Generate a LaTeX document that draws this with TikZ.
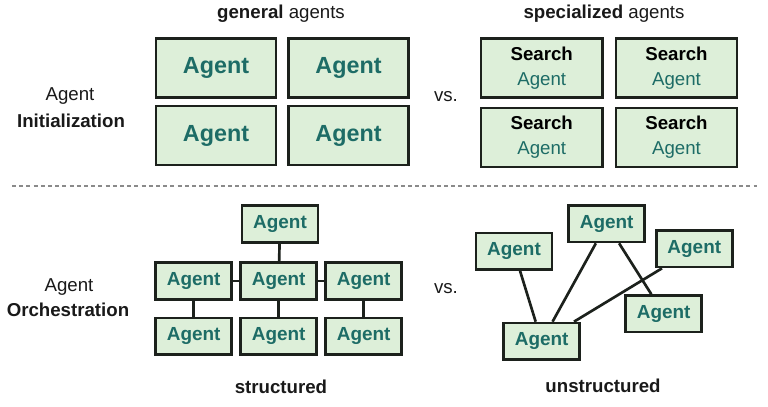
\documentclass[tikz,border=0pt]{standalone}
\usepackage{fontspec}
\setmainfont{Liberation Sans}
\usepackage{tikz}
\usetikzlibrary{positioning}
\definecolor{agfill}{HTML}{DDEFD9}
\definecolor{agline}{HTML}{1C211C}
\definecolor{agtext}{HTML}{1D6C66}
\definecolor{sepgray}{HTML}{8A8A8A}
\tikzset{
  bigag/.style  ={draw=agline, fill=agfill, line width=1.9pt, minimum width=90pt, minimum height=44pt, inner sep=0pt,
                  font=\fontsize{17.5}{20}\selectfont\bfseries, text=agtext},
  specag/.style ={draw=agline, fill=agfill, line width=1.9pt, minimum width=91pt, minimum height=44pt, inner sep=0pt,
                  align=center, font=\fontsize{14}{18.5}\selectfont},
  smallag/.style={draw=agline, fill=agfill, line width=1.9pt, minimum width=57pt, minimum height=27.5pt, inner sep=0pt,
                  font=\fontsize{14.2}{16}\selectfont\bfseries, text=agtext},
  link/.style   ={line width=2pt, agline},
  lbl/.style    ={font=\fontsize{14}{16}\selectfont, text=black!90},
  sep/.style    ={line width=1.5pt, sepgray, dash pattern=on 3pt off 2.4pt},
}
\newcommand{\srch}{\textbf{Search}\\\textcolor{agtext}{Agent}}
\begin{document}
\begin{tikzpicture}[x=0.75pt, y=-0.75pt]
  \useasboundingbox (0,0) rectangle (768,407);
  % initialization
  \node[lbl] (init1) at (70,96)  {Agent};
  \node[lbl] (init2) at (71,121) {\bfseries Initialization};
  \node[lbl] (gen)   at (281,14) {\textbf{general} agents};
  \node[lbl] (spec)  at (604,14) {\textbf{specialized} agents};
  \node[bigag] (g1) at (216,68)     {Agent};
  \node[bigag] (g2) at (348.5,68)   {Agent};
  \node[bigag] (g3) at (216,135.5)  {Agent};
  \node[bigag] (g4) at (348.5,135.5){Agent};
  \node[lbl] (vs1) at (446,97) {vs.};
  \node[specag] (s1) at (541.7,68)  {\srch};
  \node[specag] (s2) at (676.5,68)  {\srch};
  \node[specag] (s3) at (541.7,137.5){\srch};
  \node[specag] (s4) at (676.5,137.5){\srch};
  % separator
  \coordinate (sepl) at (12,186);
  \coordinate (sepr) at (757,186);
  \draw[sep] (sepl) -- (sepr);
  % orchestration
  \node[lbl] (orch1) at (69,287) {Agent};
  \node[lbl] (orch2) at (68,310) {\bfseries Orchestration};
  \node[smallag] (top) at (280,224)   {Agent};
  \node[smallag] (ml)  at (193.7,281) {Agent};
  \node[smallag] (mm)  at (278.7,281) {Agent};
  \node[smallag] (mr)  at (363.7,281) {Agent};
  \node[smallag] (bl)  at (193.7,336.4) {Agent};
  \node[smallag] (bm)  at (278.7,336.4) {Agent};
  \node[smallag] (br)  at (363.7,336.4) {Agent};
  \draw[link] (top) -- (mm);
  \draw[link] (ml) -- (mm);
  \draw[link] (mm) -- (mr);
  \draw[link] (ml) -- (bl);
  \draw[link] (mm) -- (bm);
  \draw[link] (mr) -- (br);
  \node[lbl] (struct) at (281,387) {\bfseries structured};
  \node[lbl] (vs2) at (446,289) {vs.};
  \node[smallag] (u1) at (514,251.3)   {Agent};
  \node[smallag] (u2) at (606.7,223.7) {Agent};
  \node[smallag] (u3) at (694.3,248.7) {Agent};
  \node[smallag] (u4) at (663.7,313.8) {Agent};
  \node[smallag] (u5) at (541.7,341.3) {Agent};
  \draw[link] (u1) -- (u5);
  \draw[link] (u2) -- (u5);
  \draw[link] (u2) -- (u4);
  \draw[link] (u3) -- (u5);
  \node[lbl] (unstruct) at (603,386) {\bfseries unstructured};
\end{tikzpicture}
\end{document}
